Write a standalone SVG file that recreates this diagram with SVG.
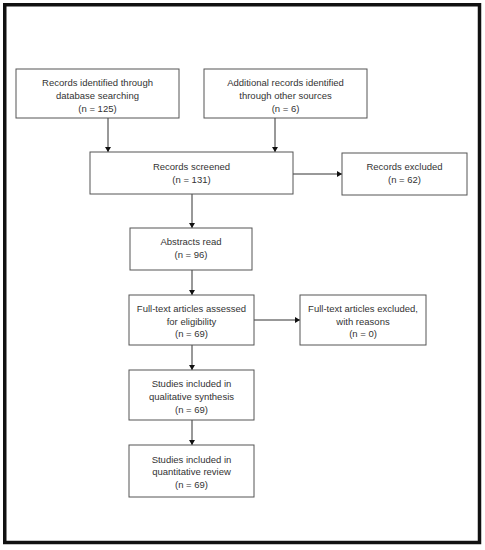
<svg xmlns="http://www.w3.org/2000/svg" width="485" height="550" viewBox="0 0 485 550">
<defs>
<style>
.box{fill:#fff;stroke:#555;stroke-width:1}
.t{font-family:"Liberation Sans",Arial,sans-serif;font-size:9.5px;fill:#333;text-anchor:middle}
.c{stroke:#333;stroke-width:1;fill:none}
</style>
<marker id="ah" markerWidth="6" markerHeight="6" refX="5" refY="3" orient="auto" markerUnits="userSpaceOnUse">
<path d="M0,0 L5,3 L0,6 Z" fill="#111"/>
</marker>
</defs>
<rect x="0" y="0" width="485" height="550" fill="#fff"/>
<rect x="4.75" y="4.75" width="474.75" height="537.75" fill="none" stroke="#111" stroke-width="3.5"/>
<g id="connectors">
<line class="c" x1="108" y1="118" x2="108" y2="152" marker-end="url(#ah)"/>
<line class="c" x1="275" y1="118" x2="275" y2="152" marker-end="url(#ah)"/>
<line class="c" x1="293" y1="174" x2="342" y2="174" marker-end="url(#ah)"/>
<line class="c" x1="192" y1="194" x2="192" y2="228" marker-end="url(#ah)"/>
<line class="c" x1="192" y1="270" x2="192" y2="295" marker-end="url(#ah)"/>
<line class="c" x1="254" y1="320" x2="300" y2="320" marker-end="url(#ah)"/>
<line class="c" x1="192" y1="345" x2="192" y2="370" marker-end="url(#ah)"/>
<line class="c" x1="192" y1="420" x2="192" y2="445" marker-end="url(#ah)"/>
</g>
<g id="n1"><rect class="box" x="16" y="69" width="163" height="49"/>
<text class="t" x="97.5" y="85.5">Records identified through</text>
<text class="t" x="97.5" y="98.5">database searching</text>
<text class="t" x="97.5" y="111.5">(n = 125)</text></g>
<g id="n2"><rect class="box" x="204" y="69" width="163" height="49"/>
<text class="t" x="285.5" y="85.5">Additional records identified</text>
<text class="t" x="285.5" y="98.5">through other sources</text>
<text class="t" x="285.5" y="111.5">(n = 6)</text></g>
<g id="n3"><rect class="box" x="90" y="152" width="203" height="42"/>
<text class="t" x="191.5" y="169.5">Records screened</text>
<text class="t" x="191.5" y="182.5">(n = 131)</text></g>
<g id="n4"><rect class="box" x="342" y="153" width="125" height="42"/>
<text class="t" x="404.5" y="170">Records excluded</text>
<text class="t" x="404.5" y="183">(n = 62)</text></g>
<g id="n5"><rect class="box" x="130" y="228" width="122" height="42"/>
<text class="t" x="191" y="245">Abstracts read</text>
<text class="t" x="191" y="257.5">(n = 96)</text></g>
<g id="n6"><rect class="box" x="129" y="295" width="125" height="50"/>
<text class="t" x="191.5" y="311.5">Full-text articles assessed</text>
<text class="t" x="191.5" y="324.5">for eligibility</text>
<text class="t" x="191.5" y="337">(n = 69)</text></g>
<g id="n7"><rect class="box" x="300" y="295" width="126" height="50"/>
<text class="t" x="363" y="311.5">Full-text articles excluded,</text>
<text class="t" x="363" y="324.5">with reasons</text>
<text class="t" x="363" y="337">(n = 0)</text></g>
<g id="n8"><rect class="box" x="129" y="370" width="125" height="50"/>
<text class="t" x="191.5" y="387">Studies included in</text>
<text class="t" x="191.5" y="400">qualitative synthesis</text>
<text class="t" x="191.5" y="412.5">(n = 69)</text></g>
<g id="n9"><rect class="box" x="129" y="445" width="125" height="52"/>
<text class="t" x="191.5" y="462.5">Studies included in</text>
<text class="t" x="191.5" y="475">quantitative review</text>
<text class="t" x="191.5" y="488">(n = 69)</text></g>
</svg>
